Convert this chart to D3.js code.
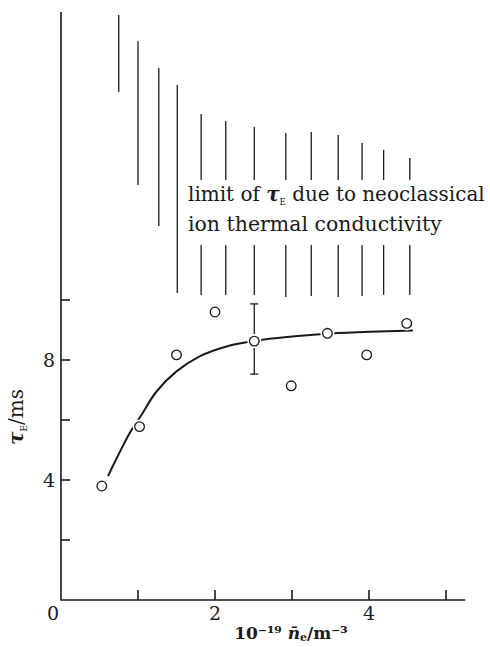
<!DOCTYPE html>
<html lang="en">
<head>
<meta charset="utf-8" />
<title>Energy confinement time vs density</title>
<script src="https://d3js.org/d3.v7.min.js"></script>
<style>
    body, html {
        margin: 0;
        padding: 0;
        background: #fff;
        overflow: hidden;
    }
    svg text {
        font-family: "DejaVu Serif", "Liberation Serif", serif;
        fill: #1a1a1a;
    }
    .axis-line {
        stroke: #1a1a1a;
        stroke-width: 1.6;
        fill: none;
    }
    .hatch {
        stroke: #1a1a1a;
        stroke-width: 1.3;
    }
    .point {
        fill: #fff;
        stroke: #1a1a1a;
        stroke-width: 1.3;
    }
</style>
</head>
<body>
<div id="chart"></div>
<script>
    // measured points (density in 1e19 m^-3, tau_E in ms)
    const densities = [0.53, 1.02, 1.5, 2.0, 2.51, 2.99, 3.46, 3.97, 4.49];
    const tauE = [3.8, 5.78, 8.17, 9.6, 8.63, 7.14, 8.89, 8.17, 9.22];

    // error bar on the 2.5 point
    const errX = 2.51;
    const errLow = 7.53;
    const errHigh = 9.87;

    // hand-drawn trend line
    const fitX = [0.61, 0.9, 1.04, 1.24, 1.5, 1.8, 2.15, 2.5, 3.0, 3.5, 4.0, 4.57];
    const fitY = [4.13, 5.6, 6.15, 6.95, 7.62, 8.12, 8.45, 8.63, 8.78, 8.88, 8.94, 8.98];

    // neoclassical limit hatching: one vertical stroke per density
    const hatchX = [0.75, 1.0, 1.27, 1.51, 1.82, 2.14, 2.51, 2.92, 3.25, 3.6, 3.91, 4.19, 4.53];
    const hatchTop = [19.5, 18.63, 17.73, 17.17, 16.2, 15.97, 15.77, 15.57, 15.6, 15.5, 15.23, 15.0, 14.73];
    const hatchBottom = [16.93, 13.83, 12.47, 10.23, 10.17, 10.17, 10.17, 10.1, 10.13, 10.1, 10.13, 10.17, 10.17];
    // strokes right of the label are broken around it
    const labelGap = [11.83, 14.0];
    const labelStartX = 1.65;

    const xTicks = [1, 2, 3, 4, 5];
    const xTickLabels = [2, 4];
    const yTicks = [2, 4, 6, 8, 10];
    const yTickLabels = [4, 8];

    const width = 490, height = 647;

    const svg = d3.select("#chart").append("svg")
        .attr("width", width)
        .attr("height", height);

    const x = d3.scaleLinear().domain([0, 5]).range([61, 446]);
    const y = d3.scaleLinear().domain([0, 10]).range([600, 300]);

    const xMax = 5.25, yMax = 19.6;

    // axes
    svg.append("path")
        .attr("class", "axis-line")
        .attr("d", `M${x(0)},${y(yMax)} V${y(0)} H${x(xMax)}`);

    svg.selectAll(".xtick")
        .data(xTicks)
        .enter().append("line")
        .attr("class", "axis-line")
        .attr("x1", d => x(d)).attr("x2", d => x(d))
        .attr("y1", y(0)).attr("y2", y(0) - 10);

    svg.selectAll(".ytick")
        .data(yTicks)
        .enter().append("line")
        .attr("class", "axis-line")
        .attr("x1", x(0)).attr("x2", x(0) + 9)
        .attr("y1", d => y(d)).attr("y2", d => y(d));

    svg.append("text")
        .attr("x", x(0) - 8)
        .attr("y", y(0) + 20)
        .attr("text-anchor", "middle")
        .style("font-size", "19px")
        .text("0");

    svg.selectAll(".xlabel")
        .data(xTickLabels)
        .enter().append("text")
        .attr("x", d => x(d))
        .attr("y", y(0) + 20)
        .attr("text-anchor", "middle")
        .style("font-size", "19px")
        .text(d => d);

    svg.selectAll(".ylabel")
        .data(yTickLabels)
        .enter().append("text")
        .attr("x", x(0) - 6)
        .attr("y", d => y(d) + 7)
        .attr("text-anchor", "end")
        .style("font-size", "19px")
        .text(d => d);

    // axis titles
    const xTitle = svg.append("text")
        .attr("x", 291)
        .attr("y", 639)
        .attr("text-anchor", "middle")
        .style("font-size", "17px")
        .style("font-weight", "bold");
    xTitle.append("tspan").text("10⁻¹⁹ ");
    xTitle.append("tspan").style("font-style", "italic").text("n̄");
    xTitle.append("tspan").attr("dy", 2).style("font-size", "11px").text("e");
    xTitle.append("tspan").attr("dy", -2).text("/m⁻³");

    const yTitle = svg.append("text")
        .attr("transform", "translate(23,417) rotate(-90)")
        .attr("text-anchor", "middle")
        .style("font-size", "20px");
    yTitle.append("tspan").style("font-style", "italic").style("font-weight", "bold").text("τ");
    yTitle.append("tspan").attr("dy", 4).style("font-size", "9px").text("E");
    yTitle.append("tspan").attr("dy", -4).text("/ms");

    // hatching
    const segments = [];
    hatchX.forEach((hx, i) => {
        if (hx > labelStartX) {
            segments.push([hx, hatchTop[i], labelGap[1]]);
            segments.push([hx, labelGap[0], hatchBottom[i]]);
        } else {
            segments.push([hx, hatchTop[i], hatchBottom[i]]);
        }
    });
    svg.selectAll(".hatch")
        .data(segments)
        .enter().append("line")
        .attr("class", "hatch")
        .attr("x1", d => x(d[0])).attr("x2", d => x(d[0]))
        .attr("y1", d => y(d[1])).attr("y2", d => y(d[2]));

    // label inside the hatching, narrowed horizontally to span the hatch block
    const label = svg.append("g").style("font-size", "21px");
    const line1 = label.append("text").attr("x", 0).attr("y", 0);
    line1.append("tspan").text("limit of ");
    line1.append("tspan").style("font-style", "italic").style("font-weight", "bold").text("τ");
    line1.append("tspan").attr("dy", 4).style("font-size", "9px").text("E");
    line1.append("tspan").attr("dy", -4).text(" due to neoclassical");
    const line2 = label.append("text").attr("x", 0).attr("y", 0).text("ion thermal conductivity");
    const s1 = 297 / line1.node().getComputedTextLength();
    const s2 = 254 / line2.node().getComputedTextLength();
    line1.attr("transform", `translate(188,201) scale(${s1},1)`);
    line2.attr("transform", `translate(188,231) scale(${s2},1)`);

    // trend curve
    const line = d3.line()
        .x(d => x(d[0]))
        .y(d => y(d[1]))
        .curve(d3.curveCatmullRom.alpha(0.5));
    svg.append("path")
        .attr("d", line(fitX.map((v, i) => [v, fitY[i]])))
        .attr("fill", "none")
        .attr("stroke", "#1a1a1a")
        .attr("stroke-width", 2);

    // error bar
    const eb = svg.append("g").attr("stroke", "#1a1a1a").attr("stroke-width", 1.3);
    eb.append("line").attr("x1", x(errX)).attr("x2", x(errX)).attr("y1", y(errLow)).attr("y2", y(errHigh));
    [errLow, errHigh].forEach(v => {
        eb.append("line").attr("x1", x(errX) - 4).attr("x2", x(errX) + 4).attr("y1", y(v)).attr("y2", y(v));
    });

    // points with a white halo so the curve breaks around them
    const pts = densities.map((v, i) => [v, tauE[i]]);
    svg.selectAll(".halo")
        .data(pts)
        .enter().append("circle")
        .attr("cx", d => x(d[0])).attr("cy", d => y(d[1]))
        .attr("r", 7)
        .attr("fill", "#fff");
    svg.selectAll(".point")
        .data(pts)
        .enter().append("circle")
        .attr("class", "point")
        .attr("cx", d => x(d[0])).attr("cy", d => y(d[1]))
        .attr("r", 4.8);
</script>
</body>
</html>
